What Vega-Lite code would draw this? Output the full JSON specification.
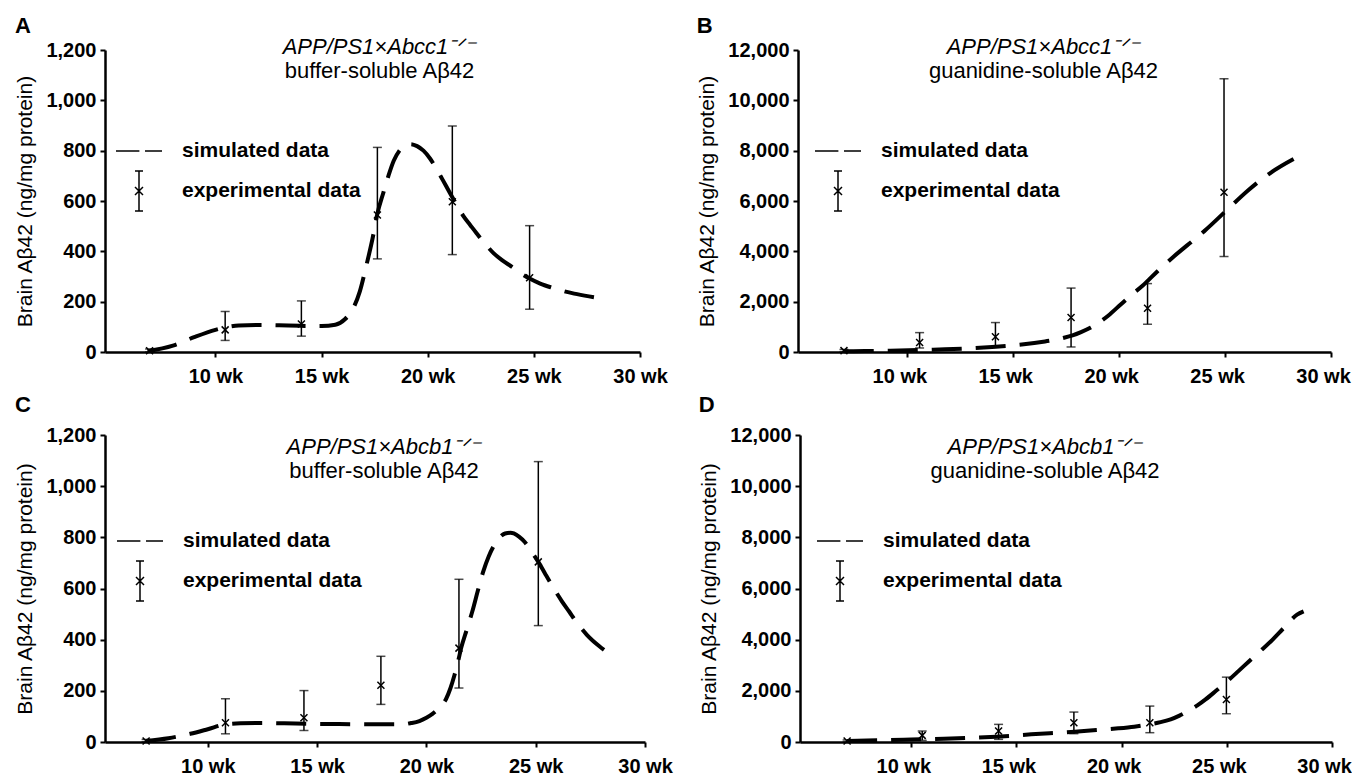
{
  "$schema": "https://vega.github.io/schema/vega-lite/v6.json",
  "background": "white",
  "padding": {"left": 14, "top": 15, "right": 0, "bottom": 0},
  "config": {
    "view": {"stroke": null},
    "font": "Liberation Sans",
    "axis": {"grid": false, "domainColor": "black", "domainWidth": 2.5, "tickColor": "black", "tickWidth": 2, "tickSize": 5, "labelFont": "Liberation Sans", "labelFontSize": 20, "labelFontWeight": "bold", "labelColor": "black", "titleFont": "Liberation Sans", "titleFontSize": 21, "titleFontWeight": "normal", "titleColor": "black", "labelFlush": false, "labelOverlap": false},
    "axisX": {"labelPadding": 9},
    "axisY": {"labelPadding": 4, "titlePadding": 10},
    "legend": {"labelLimit": 0},
    "title": {"font": "Liberation Sans", "color": "black", "subtitleFont": "Liberation Sans", "subtitleColor": "black"}
  },
  "datasets": {
    "simA": [{"week":6.8,"value":3},{"week":8.0,"value":25},{"week":9.0,"value":59},{"week":10.0,"value":88},{"week":10.5,"value":98},{"week":11.1,"value":105},{"week":12,"value":107},{"week":13,"value":106},{"week":14,"value":104},{"week":15,"value":103},{"week":15.65,"value":108},{"week":16.1,"value":130},{"week":16.5,"value":175},{"week":16.8,"value":240},{"week":17.1,"value":340},{"week":17.4,"value":450},{"week":17.63,"value":550},{"week":17.9,"value":630},{"week":18.15,"value":700},{"week":18.4,"value":760},{"week":18.67,"value":800},{"week":18.95,"value":822},{"week":19.2,"value":826},{"week":19.5,"value":818},{"week":19.8,"value":800},{"week":20.1,"value":770},{"week":20.4,"value":730},{"week":20.7,"value":685},{"week":21.06,"value":630},{"week":21.4,"value":580},{"week":21.7,"value":538},{"week":22.0,"value":505},{"week":22.3,"value":472},{"week":22.7,"value":430},{"week":23.1,"value":393},{"week":23.5,"value":365},{"week":23.97,"value":338},{"week":24.4,"value":312},{"week":24.8,"value":292},{"week":25.3,"value":272},{"week":25.84,"value":256},{"week":26.4,"value":242},{"week":26.9,"value":232},{"week":27.6,"value":221},{"week":28.3,"value":212}],
    "expA": [{"week":6.9,"value":5,"lo":0,"hi":12,"series":"experimental data"},{"week":10.46,"value":88,"lo":46,"hi":161,"series":"experimental data"},{"week":14.05,"value":111,"lo":63,"hi":203,"series":"experimental data"},{"week":17.63,"value":544,"lo":370,"hi":813,"series":"experimental data"},{"week":21.16,"value":597,"lo":387,"hi":898,"series":"experimental data"},{"week":24.8,"value":295,"lo":170,"hi":502,"series":"experimental data"}],
    "simB": [{"week":7.0,"value":30},{"week":8,"value":35},{"week":9.2,"value":50},{"week":10.5,"value":75},{"week":11.5,"value":100},{"week":12.7,"value":135},{"week":14,"value":200},{"week":15.4,"value":296},{"week":16.5,"value":420},{"week":17.4,"value":565},{"week":17.8,"value":660},{"week":18.2,"value":790},{"week":18.66,"value":970},{"week":19.1,"value":1200},{"week":19.48,"value":1440},{"week":20.1,"value":1910},{"week":20.6,"value":2280},{"week":21.13,"value":2650},{"week":21.8,"value":3200},{"week":22.58,"value":3794},{"week":23.3,"value":4300},{"week":24.02,"value":4803},{"week":25.05,"value":5610},{"week":26.08,"value":6417},{"week":27.1,"value":7090},{"week":28.45,"value":7763}],
    "expB": [{"week":7.01,"value":54,"lo":0,"hi":100,"series":"experimental data"},{"week":10.58,"value":380,"lo":160,"hi":770,"series":"experimental data"},{"week":14.16,"value":605,"lo":200,"hi":1170,"series":"experimental data"},{"week":17.73,"value":1372,"lo":200,"hi":2540,"series":"experimental data"},{"week":21.34,"value":1735,"lo":1103,"hi":2718,"series":"experimental data"},{"week":24.95,"value":6350,"lo":3794,"hi":10857,"series":"experimental data"}],
    "simC": [{"week":7.18,"value":4},{"week":8.2,"value":15},{"week":9.2,"value":32},{"week":10.0,"value":50},{"week":10.8,"value":69},{"week":11.5,"value":73},{"week":12.5,"value":74},{"week":13.5,"value":73},{"week":14.8,"value":71},{"week":16,"value":70},{"week":17.5,"value":69},{"week":18.87,"value":69},{"week":19.3,"value":74},{"week":19.68,"value":82},{"week":20.0,"value":95},{"week":20.28,"value":110},{"week":20.6,"value":135},{"week":20.9,"value":168},{"week":21.1,"value":210},{"week":21.29,"value":263},{"week":21.45,"value":315},{"week":21.59,"value":367},{"week":21.85,"value":440},{"week":22.1,"value":510},{"week":22.35,"value":590},{"week":22.6,"value":666},{"week":22.85,"value":725},{"week":23.1,"value":769},{"week":23.35,"value":800},{"week":23.6,"value":815},{"week":23.85,"value":818},{"week":24.0,"value":815},{"week":24.25,"value":802},{"week":24.5,"value":782},{"week":24.8,"value":745},{"week":25.12,"value":704},{"week":25.45,"value":655},{"week":25.83,"value":600},{"week":26.2,"value":550},{"week":26.53,"value":510},{"week":26.9,"value":465},{"week":27.34,"value":419},{"week":27.9,"value":375},{"week":28.55,"value":335}],
    "expC": [{"week":7.18,"value":4,"lo":0,"hi":10,"series":"experimental data"},{"week":10.81,"value":75,"lo":32,"hi":169,"series":"experimental data"},{"week":14.4,"value":95,"lo":45,"hi":201,"series":"experimental data"},{"week":17.92,"value":222,"lo":147,"hi":335,"series":"experimental data"},{"week":21.49,"value":367,"lo":211,"hi":636,"series":"experimental data"},{"week":25.12,"value":704,"lo":455,"hi":1096,"series":"experimental data"}],
    "simD": [{"week":6.95,"value":40},{"week":8.45,"value":65},{"week":10,"value":95},{"week":11.55,"value":130},{"week":12.8,"value":165},{"week":14.04,"value":208},{"week":15.7,"value":299},{"week":17.77,"value":403},{"week":18.8,"value":465},{"week":19.84,"value":533},{"week":20.6,"value":600},{"week":21.3,"value":689},{"week":21.85,"value":775},{"week":22.33,"value":884},{"week":22.75,"value":1030},{"week":23.16,"value":1209},{"week":23.6,"value":1430},{"week":23.99,"value":1664},{"week":24.5,"value":2010},{"week":25.03,"value":2379},{"week":25.55,"value":2770},{"week":26.06,"value":3159},{"week":26.6,"value":3560},{"week":27.1,"value":3939},{"week":27.7,"value":4450},{"week":28.34,"value":4979},{"week":28.65,"value":5109}],
    "expD": [{"week":6.95,"value":40,"lo":0,"hi":80,"series":"experimental data"},{"week":10.52,"value":260,"lo":65,"hi":429,"series":"experimental data"},{"week":14.15,"value":429,"lo":104,"hi":689,"series":"experimental data"},{"week":17.73,"value":754,"lo":325,"hi":1170,"series":"experimental data"},{"week":21.34,"value":754,"lo":364,"hi":1404,"series":"experimental data"},{"week":24.98,"value":1664,"lo":1105,"hi":2535,"series":"experimental data"}]
  },
  "spacing": 8,
  "resolve": {"scale": {"x": "independent", "y": "independent", "shape": "independent"}, "legend": {"shape": "independent"}},
  "vconcat": [
    {
      "spacing": 28,
      "resolve": {"scale": {"x": "independent", "y": "independent", "shape": "independent"}, "legend": {"shape": "independent"}},
      "hconcat": [
        {
          "title": {"text": "A", "anchor": "start", "frame": "bounds", "fontSize": 22, "fontWeight": "bold", "offset": -2},
          "vconcat": [
            {
              "width": 535, "height": 302,
              "title": {"text": "APP/PS1×Abcc1⁻ᐟ⁻", "subtitle": "buffer-soluble Aβ42", "fontStyle": "italic", "fontWeight": "normal", "fontSize": 22, "subtitleFontSize": 22, "subtitlePadding": 2, "anchor": "middle", "offset": -43, "dx": 7},
              "layer": [
                {"data": {"name": "expA"}, "mark": {"type": "rule", "color": "black", "strokeWidth": 1.5},
                 "encoding": {
                   "x": {"field": "week", "type": "quantitative", "title": null, "scale": {"domain": [4.8, 30], "nice": false, "zero": false}, "axis": {"values": [10, 15, 20, 25, 30], "labelExpr": "datum.value + ' wk'"}},
                   "y": {"field": "lo", "type": "quantitative", "title": "Brain Aβ42 (ng/mg protein)", "scale": {"domain": [0, 1200], "nice": false}, "axis": {"values": [0, 200, 400, 600, 800, 1000, 1200], "labelExpr": "format(datum.value, ',')"}},
                   "y2": {"field": "hi"}}},
                {"data": {"name": "expA"}, "mark": {"type": "tick", "orient": "horizontal", "color": "black", "size": 9, "thickness": 1.5},
                 "encoding": {"x": {"field": "week", "type": "quantitative"}, "y": {"field": "hi", "type": "quantitative"}}},
                {"data": {"name": "expA"}, "mark": {"type": "tick", "orient": "horizontal", "color": "black", "size": 9, "thickness": 1.5},
                 "encoding": {"x": {"field": "week", "type": "quantitative"}, "y": {"field": "lo", "type": "quantitative"}}},
                {"data": {"name": "simA"}, "mark": {"type": "line", "color": "black", "strokeWidth": 4, "strokeDash": [30, 14], "interpolate": "monotone"},
                 "encoding": {"x": {"field": "week", "type": "quantitative"}, "y": {"field": "value", "type": "quantitative"}}},
                {"data": {"name": "expA"}, "mark": {"type": "point", "shape": "M-1,-1L1,1M-1,1L1,-1", "size": 49, "filled": false, "color": "black", "strokeWidth": 1.5, "opacity": 1},
                 "encoding": {"x": {"field": "week", "type": "quantitative"}, "y": {"field": "value", "type": "quantitative"}}},
                {"data": {"name": "expA"}, "mark": {"type": "point", "filled": false, "color": "black", "opacity": 0, "size": 1600},
                 "encoding": {"x": {"field": "week", "type": "quantitative"}, "y": {"field": "value", "type": "quantitative"},
                   "shape": {"field": "series", "type": "nominal", "scale": {"domain": ["simulated data", "experimental data"], "range": ["M-1.15,0H0.02M0.3,0H1.15", "M0,-1V1M-0.2,-1H0.2M-0.2,1H0.2M-0.2,-0.2L0.2,0.2M-0.2,0.2L0.2,-0.2"]},
                     "legend": {"title": null, "orient": "none", "legendX": 13, "legendY": 80, "symbolSize": 1600, "labelOffset": 22, "rowPadding": 7, "padding": 0, "labelFontSize": 21, "labelFontWeight": "bold", "labelFont": "Liberation Sans", "labelColor": "black", "labelLimit": 0, "symbolFillColor": "transparent", "symbolStrokeColor": "black", "symbolOpacity": 1, "encode": {"symbols": {"update": {"strokeWidth": {"signal": "datum.value === 'simulated data' ? 4 : 1.5"}}}}}}}}
              ]
            }
          ]
        },
        {
          "title": {"text": "B", "anchor": "start", "frame": "bounds", "fontSize": 22, "fontWeight": "bold", "offset": -2},
          "vconcat": [
            {
              "width": 533, "height": 302,
              "title": {"text": "APP/PS1×Abcc1⁻ᐟ⁻", "subtitle": "guanidine-soluble Aβ42", "fontStyle": "italic", "fontWeight": "normal", "fontSize": 22, "subtitleFontSize": 22, "subtitlePadding": 2, "anchor": "middle", "offset": -43, "dx": -21},
              "layer": [
                {"data": {"name": "expB"}, "mark": {"type": "rule", "color": "black", "strokeWidth": 1.5},
                 "encoding": {
                   "x": {"field": "week", "type": "quantitative", "title": null, "scale": {"domain": [4.84, 30], "nice": false, "zero": false}, "axis": {"values": [10, 15, 20, 25, 30], "labelExpr": "datum.value + ' wk'", "labelOffset": -8}},
                   "y": {"field": "lo", "type": "quantitative", "title": "Brain Aβ42 (ng/mg protein)", "scale": {"domain": [0, 12000], "nice": false}, "axis": {"values": [0, 2000, 4000, 6000, 8000, 10000, 12000], "labelExpr": "format(datum.value, ',')"}},
                   "y2": {"field": "hi"}}},
                {"data": {"name": "expB"}, "mark": {"type": "tick", "orient": "horizontal", "color": "black", "size": 9, "thickness": 1.5},
                 "encoding": {"x": {"field": "week", "type": "quantitative"}, "y": {"field": "hi", "type": "quantitative"}}},
                {"data": {"name": "expB"}, "mark": {"type": "tick", "orient": "horizontal", "color": "black", "size": 9, "thickness": 1.5},
                 "encoding": {"x": {"field": "week", "type": "quantitative"}, "y": {"field": "lo", "type": "quantitative"}}},
                {"data": {"name": "simB"}, "mark": {"type": "line", "color": "black", "strokeWidth": 4, "strokeDash": [30, 14], "interpolate": "monotone"},
                 "encoding": {"x": {"field": "week", "type": "quantitative"}, "y": {"field": "value", "type": "quantitative"}}},
                {"data": {"name": "expB"}, "mark": {"type": "point", "shape": "M-1,-1L1,1M-1,1L1,-1", "size": 49, "filled": false, "color": "black", "strokeWidth": 1.5, "opacity": 1},
                 "encoding": {"x": {"field": "week", "type": "quantitative"}, "y": {"field": "value", "type": "quantitative"}}},
                {"data": {"name": "expB"}, "mark": {"type": "point", "filled": false, "color": "black", "opacity": 0, "size": 1600},
                 "encoding": {"x": {"field": "week", "type": "quantitative"}, "y": {"field": "value", "type": "quantitative"},
                   "shape": {"field": "series", "type": "nominal", "scale": {"domain": ["simulated data", "experimental data"], "range": ["M-1.15,0H0.02M0.3,0H1.15", "M0,-1V1M-0.2,-1H0.2M-0.2,1H0.2M-0.2,-0.2L0.2,0.2M-0.2,0.2L0.2,-0.2"]},
                     "legend": {"title": null, "orient": "none", "legendX": 19, "legendY": 80, "symbolSize": 1600, "labelOffset": 22, "rowPadding": 7, "padding": 0, "labelFontSize": 21, "labelFontWeight": "bold", "labelFont": "Liberation Sans", "labelColor": "black", "labelLimit": 0, "symbolFillColor": "transparent", "symbolStrokeColor": "black", "symbolOpacity": 1, "encode": {"symbols": {"update": {"strokeWidth": {"signal": "datum.value === 'simulated data' ? 4 : 1.5"}}}}}}}}
              ]
            }
          ]
        }
      ]
    },
    {
      "spacing": 25,
      "resolve": {"scale": {"x": "independent", "y": "independent", "shape": "independent"}, "legend": {"shape": "independent"}},
      "hconcat": [
        {
          "title": {"text": "C", "anchor": "start", "frame": "bounds", "fontSize": 22, "fontWeight": "bold", "offset": 8},
          "vconcat": [
            {
              "width": 540, "height": 307,
              "title": {"text": "APP/PS1×Abcb1⁻ᐟ⁻", "subtitle": "buffer-soluble Aβ42", "fontStyle": "italic", "fontWeight": "normal", "fontSize": 22, "subtitleFontSize": 22, "subtitlePadding": 2, "anchor": "middle", "offset": -58, "dx": 9},
              "layer": [
                {"data": {"name": "expC"}, "mark": {"type": "rule", "color": "black", "strokeWidth": 1.5},
                 "encoding": {
                   "x": {"field": "week", "type": "quantitative", "title": null, "scale": {"domain": [5.3, 30], "nice": false, "zero": false}, "axis": {"values": [10, 15, 20, 25, 30], "labelExpr": "datum.value + ' wk'"}},
                   "y": {"field": "lo", "type": "quantitative", "title": "Brain Aβ42 (ng/mg protein)", "scale": {"domain": [0, 1200], "nice": false}, "axis": {"values": [0, 200, 400, 600, 800, 1000, 1200], "labelExpr": "format(datum.value, ',')"}},
                   "y2": {"field": "hi"}}},
                {"data": {"name": "expC"}, "mark": {"type": "tick", "orient": "horizontal", "color": "black", "size": 9, "thickness": 1.5},
                 "encoding": {"x": {"field": "week", "type": "quantitative"}, "y": {"field": "hi", "type": "quantitative"}}},
                {"data": {"name": "expC"}, "mark": {"type": "tick", "orient": "horizontal", "color": "black", "size": 9, "thickness": 1.5},
                 "encoding": {"x": {"field": "week", "type": "quantitative"}, "y": {"field": "lo", "type": "quantitative"}}},
                {"data": {"name": "simC"}, "mark": {"type": "line", "color": "black", "strokeWidth": 4, "strokeDash": [30, 14], "interpolate": "monotone"},
                 "encoding": {"x": {"field": "week", "type": "quantitative"}, "y": {"field": "value", "type": "quantitative"}}},
                {"data": {"name": "expC"}, "mark": {"type": "point", "shape": "M-1,-1L1,1M-1,1L1,-1", "size": 49, "filled": false, "color": "black", "strokeWidth": 1.5, "opacity": 1},
                 "encoding": {"x": {"field": "week", "type": "quantitative"}, "y": {"field": "value", "type": "quantitative"}}},
                {"data": {"name": "expC"}, "mark": {"type": "point", "filled": false, "color": "black", "opacity": 0, "size": 1600},
                 "encoding": {"x": {"field": "week", "type": "quantitative"}, "y": {"field": "value", "type": "quantitative"},
                   "shape": {"field": "series", "type": "nominal", "scale": {"domain": ["simulated data", "experimental data"], "range": ["M-1.15,0H0.02M0.3,0H1.15", "M0,-1V1M-0.2,-1H0.2M-0.2,1H0.2M-0.2,-0.2L0.2,0.2M-0.2,0.2L0.2,-0.2"]},
                     "legend": {"title": null, "orient": "none", "legendX": 14, "legendY": 85, "symbolSize": 1600, "labelOffset": 22, "rowPadding": 7, "padding": 0, "labelFontSize": 21, "labelFontWeight": "bold", "labelFont": "Liberation Sans", "labelColor": "black", "labelLimit": 0, "symbolFillColor": "transparent", "symbolStrokeColor": "black", "symbolOpacity": 1, "encode": {"symbols": {"update": {"strokeWidth": {"signal": "datum.value === 'simulated data' ? 4 : 1.5"}}}}}}}}
              ]
            }
          ]
        },
        {
          "title": {"text": "D", "anchor": "start", "frame": "bounds", "fontSize": 22, "fontWeight": "bold", "offset": 8},
          "vconcat": [
            {
              "width": 532, "height": 307,
              "title": {"text": "APP/PS1×Abcb1⁻ᐟ⁻", "subtitle": "guanidine-soluble Aβ42", "fontStyle": "italic", "fontWeight": "normal", "fontSize": 22, "subtitleFontSize": 22, "subtitlePadding": 2, "anchor": "middle", "offset": -58, "dx": -21},
              "layer": [
                {"data": {"name": "expD"}, "mark": {"type": "rule", "color": "black", "strokeWidth": 1.5},
                 "encoding": {
                   "x": {"field": "week", "type": "quantitative", "title": null, "scale": {"domain": [4.71, 30], "nice": false, "zero": false}, "axis": {"values": [10, 15, 20, 25, 30], "labelExpr": "datum.value + ' wk'", "labelOffset": -8}},
                   "y": {"field": "lo", "type": "quantitative", "title": "Brain Aβ42 (ng/mg protein)", "scale": {"domain": [0, 12000], "nice": false}, "axis": {"values": [0, 2000, 4000, 6000, 8000, 10000, 12000], "labelExpr": "format(datum.value, ',')"}},
                   "y2": {"field": "hi"}}},
                {"data": {"name": "expD"}, "mark": {"type": "tick", "orient": "horizontal", "color": "black", "size": 9, "thickness": 1.5},
                 "encoding": {"x": {"field": "week", "type": "quantitative"}, "y": {"field": "hi", "type": "quantitative"}}},
                {"data": {"name": "expD"}, "mark": {"type": "tick", "orient": "horizontal", "color": "black", "size": 9, "thickness": 1.5},
                 "encoding": {"x": {"field": "week", "type": "quantitative"}, "y": {"field": "lo", "type": "quantitative"}}},
                {"data": {"name": "simD"}, "mark": {"type": "line", "color": "black", "strokeWidth": 4, "strokeDash": [30, 14], "interpolate": "monotone"},
                 "encoding": {"x": {"field": "week", "type": "quantitative"}, "y": {"field": "value", "type": "quantitative"}}},
                {"data": {"name": "expD"}, "mark": {"type": "point", "shape": "M-1,-1L1,1M-1,1L1,-1", "size": 49, "filled": false, "color": "black", "strokeWidth": 1.5, "opacity": 1},
                 "encoding": {"x": {"field": "week", "type": "quantitative"}, "y": {"field": "value", "type": "quantitative"}}},
                {"data": {"name": "expD"}, "mark": {"type": "point", "filled": false, "color": "black", "opacity": 0, "size": 1600},
                 "encoding": {"x": {"field": "week", "type": "quantitative"}, "y": {"field": "value", "type": "quantitative"},
                   "shape": {"field": "series", "type": "nominal", "scale": {"domain": ["simulated data", "experimental data"], "range": ["M-1.15,0H0.02M0.3,0H1.15", "M0,-1V1M-0.2,-1H0.2M-0.2,1H0.2M-0.2,-0.2L0.2,0.2M-0.2,0.2L0.2,-0.2"]},
                     "legend": {"title": null, "orient": "none", "legendX": 19, "legendY": 85, "symbolSize": 1600, "labelOffset": 22, "rowPadding": 7, "padding": 0, "labelFontSize": 21, "labelFontWeight": "bold", "labelFont": "Liberation Sans", "labelColor": "black", "labelLimit": 0, "symbolFillColor": "transparent", "symbolStrokeColor": "black", "symbolOpacity": 1, "encode": {"symbols": {"update": {"strokeWidth": {"signal": "datum.value === 'simulated data' ? 4 : 1.5"}}}}}}}}
              ]
            }
          ]
        }
      ]
    }
  ]
}
